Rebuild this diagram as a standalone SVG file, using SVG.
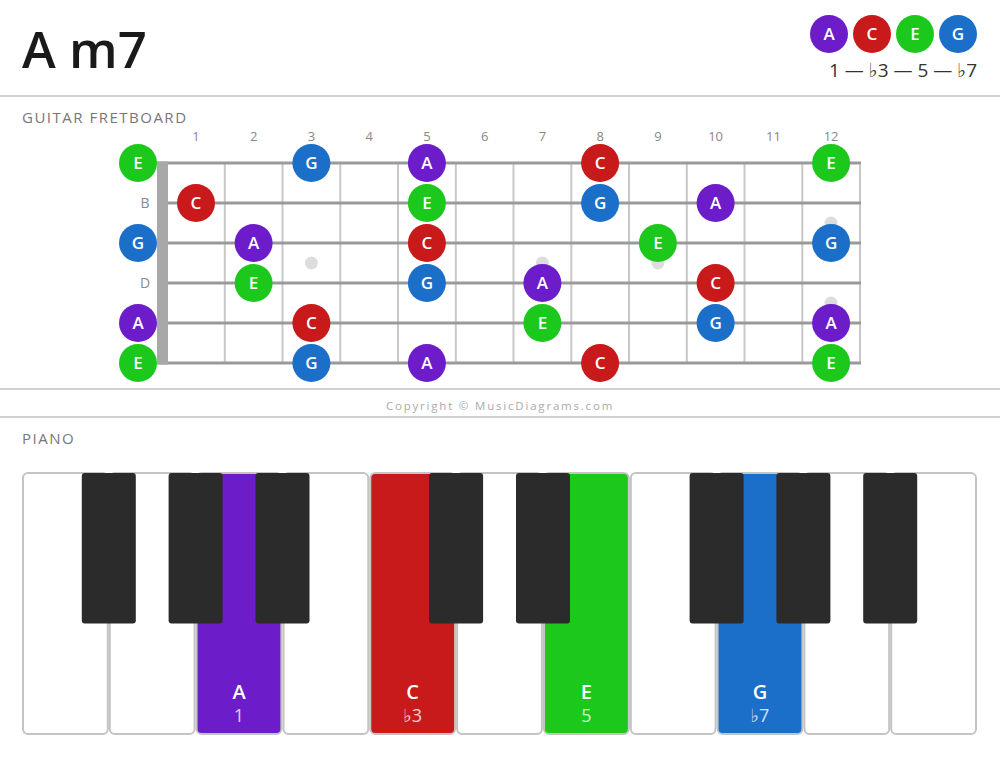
<svg xmlns="http://www.w3.org/2000/svg" width="1000" height="759" viewBox="0 0 1000 759">
<style>
.title{font-family:"Open Sans","Liberation Sans",sans-serif;font-weight:600;font-size:51px;fill:#1a1a1a}
.sec{font-family:"Open Sans","Liberation Sans",sans-serif;font-size:15px;letter-spacing:1.5px;fill:#777}
.fn{font-family:"Open Sans","Liberation Sans",sans-serif;font-size:13px;fill:#888;text-anchor:middle}
.sl{font-family:"Open Sans","Liberation Sans",sans-serif;font-size:14px;fill:#888;text-anchor:middle}
.nl{font-family:"Open Sans","Liberation Sans",sans-serif;font-size:17px;font-weight:600;fill:#fff;text-anchor:middle}
.leg{font-family:"Open Sans","DejaVu Sans",sans-serif;font-size:19px;fill:#333;text-anchor:end}
.copy{font-family:"Open Sans","Liberation Sans",sans-serif;font-size:11.5px;letter-spacing:1.8px;fill:#aaa;text-anchor:middle}
.kl{font-family:"Open Sans","Liberation Sans",sans-serif;font-size:20px;font-weight:600;fill:#fff;text-anchor:middle}
.ki{font-family:"Open Sans","DejaVu Sans",sans-serif;font-size:18px;fill:#fff;fill-opacity:0.8;text-anchor:middle}
.str{stroke:#9a9a9a;stroke-width:3}
.fret{stroke:#c8c8c8;stroke-width:2}
.dot{fill:#ddd}
.wk{fill:#fff;stroke:#c4c4c4;stroke-width:2}
.bk{fill:#2b2b2b}
.rule{stroke:#d0d0d0;stroke-width:2}
.A{fill:#6c1cc8}.C{fill:#c81a1a}.E{fill:#1cc81c}.G{fill:#1b6fc8}
</style>
<rect width="1000" height="759" fill="#fff"/>
<g id="header">
<text class="title" x="22" y="68">A m7</text>
<g id="legend">
<circle class="A" cx="829" cy="34" r="19"/><text class="nl" x="829" y="40">A</text>
<circle class="C" cx="872" cy="34" r="19"/><text class="nl" x="872" y="40">C</text>
<circle class="E" cx="915" cy="34" r="19"/><text class="nl" x="915" y="40">E</text>
<circle class="G" cx="958" cy="34" r="19"/><text class="nl" x="958" y="40">G</text>
<text class="leg" x="977" y="77">1 — ♭3 — 5 — ♭7</text>
</g>
</g>
<line class="rule" x1="0" y1="96" x2="1000" y2="96"/>
<text class="sec" x="22" y="123">GUITAR FRETBOARD</text>
<g id="fret-numbers">
<text class="fn" x="196" y="141">1</text><text class="fn" x="253.6" y="141">2</text><text class="fn" x="311.4" y="141">3</text><text class="fn" x="369.1" y="141">4</text><text class="fn" x="426.9" y="141">5</text><text class="fn" x="484.6" y="141">6</text><text class="fn" x="542.4" y="141">7</text><text class="fn" x="600.1" y="141">8</text><text class="fn" x="657.9" y="141">9</text><text class="fn" x="715.6" y="141">10</text><text class="fn" x="773.4" y="141">11</text><text class="fn" x="831.1" y="141">12</text>
</g>
<g id="fretboard">
<g id="frets">
<line class="fret" x1="224.8" y1="163" x2="224.8" y2="363"/><line class="fret" x1="282.5" y1="163" x2="282.5" y2="363"/><line class="fret" x1="340.3" y1="163" x2="340.3" y2="363"/><line class="fret" x1="398" y1="163" x2="398" y2="363"/><line class="fret" x1="455.8" y1="163" x2="455.8" y2="363"/><line class="fret" x1="513.5" y1="163" x2="513.5" y2="363"/><line class="fret" x1="571.3" y1="163" x2="571.3" y2="363"/><line class="fret" x1="629" y1="163" x2="629" y2="363"/><line class="fret" x1="686.8" y1="163" x2="686.8" y2="363"/><line class="fret" x1="744.5" y1="163" x2="744.5" y2="363"/><line class="fret" x1="802.3" y1="163" x2="802.3" y2="363"/><line class="fret" x1="860" y1="163" x2="860" y2="363"/>
</g>
<g id="inlays">
<circle class="dot" cx="311.4" cy="263" r="6.5"/><circle class="dot" cx="542.4" cy="263" r="6.5"/><circle class="dot" cx="657.9" cy="263" r="6.5"/><circle class="dot" cx="831.1" cy="223" r="6.5"/><circle class="dot" cx="831.1" cy="303" r="6.5"/>
</g>
<g id="strings">
<line class="str" x1="157" y1="163" x2="861" y2="163"/><line class="str" x1="157" y1="203" x2="861" y2="203"/><line class="str" x1="157" y1="243" x2="861" y2="243"/><line class="str" x1="157" y1="283" x2="861" y2="283"/><line class="str" x1="157" y1="323" x2="861" y2="323"/><line class="str" x1="157" y1="363" x2="861" y2="363"/>
</g>
<rect id="nut" x="157" y="161.5" width="11" height="203" fill="#a8a8a8"/>
<text class="sl" x="145" y="208">B</text>
<text class="sl" x="145" y="288">D</text>
</g>
<g id="notes">
<g><circle class="E" cx="138" cy="163" r="19"/><text class="nl" x="138" y="169">E</text></g>
<g><circle class="G" cx="311.4" cy="163" r="19"/><text class="nl" x="311.4" y="169">G</text></g>
<g><circle class="A" cx="426.9" cy="163" r="19"/><text class="nl" x="426.9" y="169">A</text></g>
<g><circle class="C" cx="600.1" cy="163" r="19"/><text class="nl" x="600.1" y="169">C</text></g>
<g><circle class="E" cx="831.1" cy="163" r="19"/><text class="nl" x="831.1" y="169">E</text></g>
<g><circle class="C" cx="196" cy="203" r="19"/><text class="nl" x="196" y="209">C</text></g>
<g><circle class="E" cx="426.9" cy="203" r="19"/><text class="nl" x="426.9" y="209">E</text></g>
<g><circle class="G" cx="600.1" cy="203" r="19"/><text class="nl" x="600.1" y="209">G</text></g>
<g><circle class="A" cx="715.6" cy="203" r="19"/><text class="nl" x="715.6" y="209">A</text></g>
<g><circle class="G" cx="138" cy="243" r="19"/><text class="nl" x="138" y="249">G</text></g>
<g><circle class="A" cx="253.6" cy="243" r="19"/><text class="nl" x="253.6" y="249">A</text></g>
<g><circle class="C" cx="426.9" cy="243" r="19"/><text class="nl" x="426.9" y="249">C</text></g>
<g><circle class="E" cx="657.9" cy="243" r="19"/><text class="nl" x="657.9" y="249">E</text></g>
<g><circle class="G" cx="831.1" cy="243" r="19"/><text class="nl" x="831.1" y="249">G</text></g>
<g><circle class="E" cx="253.6" cy="283" r="19"/><text class="nl" x="253.6" y="289">E</text></g>
<g><circle class="G" cx="426.9" cy="283" r="19"/><text class="nl" x="426.9" y="289">G</text></g>
<g><circle class="A" cx="542.4" cy="283" r="19"/><text class="nl" x="542.4" y="289">A</text></g>
<g><circle class="C" cx="715.6" cy="283" r="19"/><text class="nl" x="715.6" y="289">C</text></g>
<g><circle class="A" cx="138" cy="323" r="19"/><text class="nl" x="138" y="329">A</text></g>
<g><circle class="C" cx="311.4" cy="323" r="19"/><text class="nl" x="311.4" y="329">C</text></g>
<g><circle class="E" cx="542.4" cy="323" r="19"/><text class="nl" x="542.4" y="329">E</text></g>
<g><circle class="G" cx="715.6" cy="323" r="19"/><text class="nl" x="715.6" y="329">G</text></g>
<g><circle class="A" cx="831.1" cy="323" r="19"/><text class="nl" x="831.1" y="329">A</text></g>
<g><circle class="E" cx="138" cy="363" r="19"/><text class="nl" x="138" y="369">E</text></g>
<g><circle class="G" cx="311.4" cy="363" r="19"/><text class="nl" x="311.4" y="369">G</text></g>
<g><circle class="A" cx="426.9" cy="363" r="19"/><text class="nl" x="426.9" y="369">A</text></g>
<g><circle class="C" cx="600.1" cy="363" r="19"/><text class="nl" x="600.1" y="369">C</text></g>
<g><circle class="E" cx="831.1" cy="363" r="19"/><text class="nl" x="831.1" y="369">E</text></g>
</g>
<line class="rule" x1="0" y1="389" x2="1000" y2="389"/>
<text class="copy" x="500" y="410">Copyright © MusicDiagrams.com</text>
<line class="rule" x1="0" y1="417" x2="1000" y2="417"/>
<text class="sec" x="22" y="444">PIANO</text>
<g id="piano">
<g id="white-keys">
<rect class="wk" x="23" y="473" width="84.8" height="261" rx="5"/>
<rect class="wk" x="109.8" y="473" width="84.8" height="261" rx="5"/>
<rect class="wk A" x="196.6" y="473" width="84.8" height="261" rx="5"/>
<rect class="wk" x="283.5" y="473" width="84.8" height="261" rx="5"/>
<rect class="wk C" x="370.3" y="473" width="84.8" height="261" rx="5"/>
<rect class="wk" x="457.1" y="473" width="84.8" height="261" rx="5"/>
<rect class="wk E" x="544" y="473" width="84.8" height="261" rx="5"/>
<rect class="wk" x="630.8" y="473" width="84.8" height="261" rx="5"/>
<rect class="wk G" x="717.6" y="473" width="84.8" height="261" rx="5"/>
<rect class="wk" x="804.4" y="473" width="84.8" height="261" rx="5"/>
<rect class="wk" x="891.2" y="473" width="84.8" height="261" rx="5"/>
</g>
<g id="black-keys">
<rect class="bk" x="81.8" y="473" width="54" height="150.5" rx="3"/>
<rect class="bk" x="168.6" y="473" width="54" height="150.5" rx="3"/>
<rect class="bk" x="255.5" y="473" width="54" height="150.5" rx="3"/>
<rect class="bk" x="429.1" y="473" width="54" height="150.5" rx="3"/>
<rect class="bk" x="516" y="473" width="54" height="150.5" rx="3"/>
<rect class="bk" x="689.6" y="473" width="54" height="150.5" rx="3"/>
<rect class="bk" x="776.4" y="473" width="54" height="150.5" rx="3"/>
<rect class="bk" x="863.2" y="473" width="54" height="150.5" rx="3"/>
</g>
<g id="key-labels">
<text class="kl" x="239" y="699">A</text><text class="ki" x="239" y="722">1</text>
<text class="kl" x="412.7" y="699">C</text><text class="ki" x="412.7" y="722">♭3</text>
<text class="kl" x="586.4" y="699">E</text><text class="ki" x="586.4" y="722">5</text>
<text class="kl" x="760" y="699">G</text><text class="ki" x="760" y="722">♭7</text>
</g>
</g>
</svg>
